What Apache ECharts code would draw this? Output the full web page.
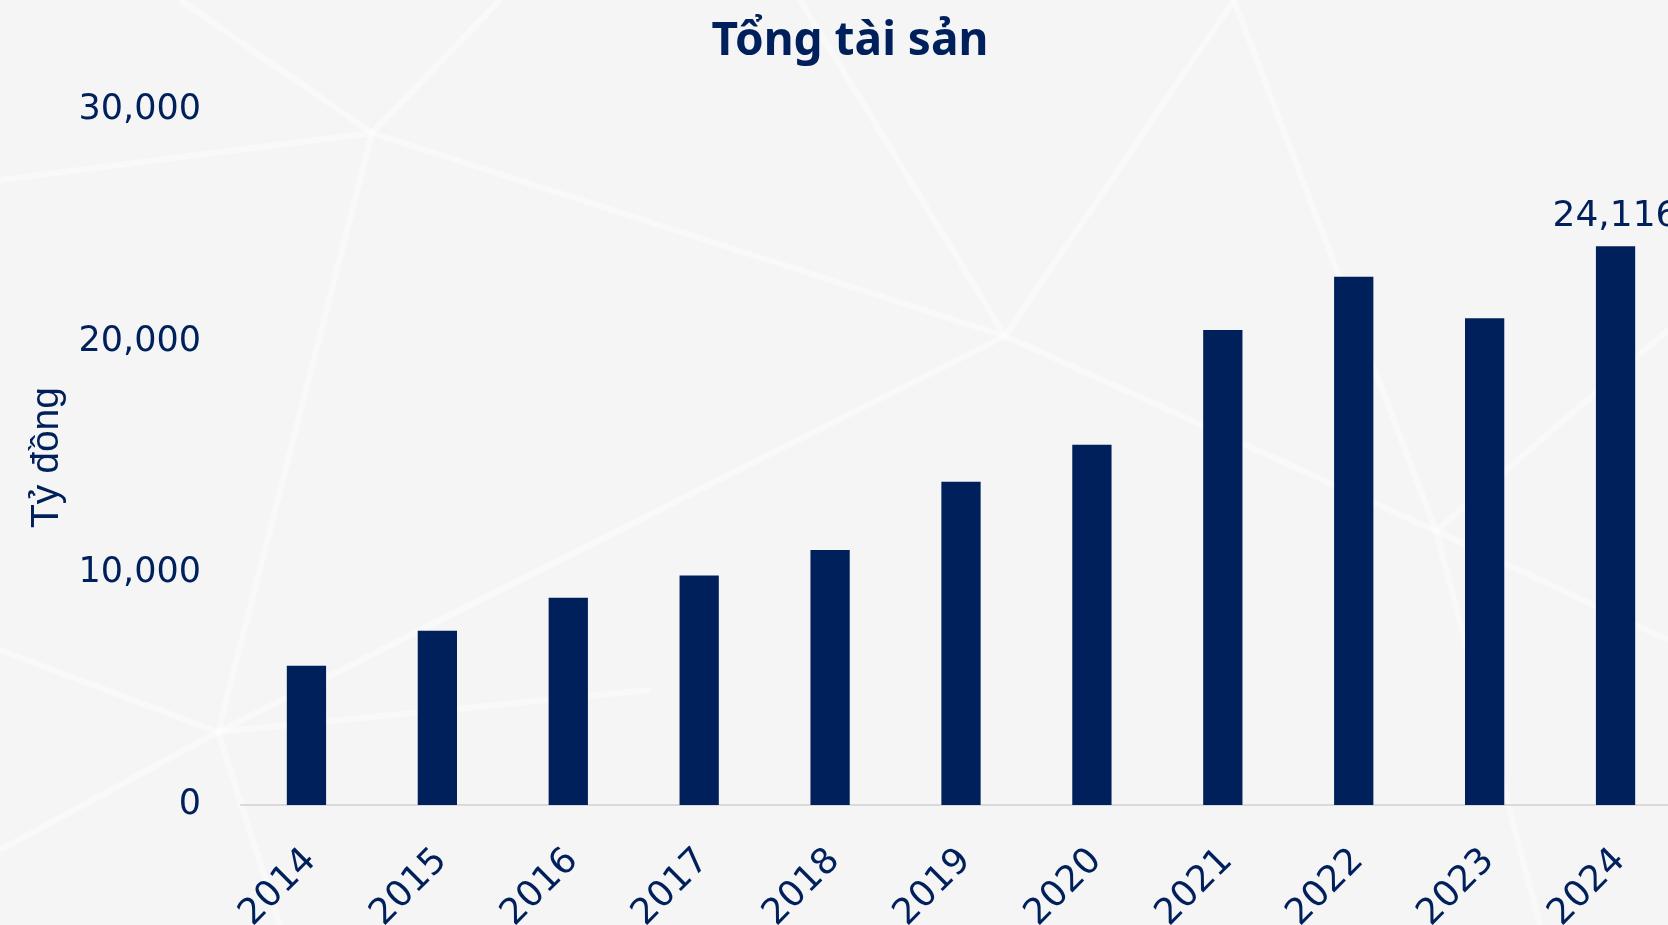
<!DOCTYPE html>
<html>
<head>
<meta charset="utf-8">
<script src="https://cdn.jsdelivr.net/npm/echarts@6/dist/echarts.min.js"></script>
<style>
  html, body { margin: 0; padding: 0; background: #f5f5f6; }
  #main { width: 1668px; height: 925px; }
</style>
</head>
<body>
<div id="main"></div>
<script>
var years = ['2014', '2015', '2016', '2017', '2018', '2019', '2020', '2021', '2022', '2023', '2024'];
var totalAssets = [6010, 7520, 8950, 9910, 11010, 13950, 15550, 20500, 22800, 21010, 24116];
var labelYears = ['2024'];
var yTicks = { min: 0, max: 30000, interval: 10000 };

// faint white facets of the backdrop (pixel coordinates, decoration only)
var facetLines = [
    [[180, 0], [372, 133]], [[0, 180], [372, 133]], [[372, 133], [500, 0]],
    [[372, 133], [218, 732]], [[372, 133], [1005, 336]],
    [[1005, 336], [800, 0]], [[1005, 336], [1234, 0]], [[1234, 0], [1436, 531]],
    [[1005, 336], [1436, 531]], [[1005, 336], [218, 732]],
    [[1436, 531], [1668, 640]], [[1436, 531], [1668, 330]], [[1436, 531], [1540, 925]],
    [[218, 732], [0, 650]], [[218, 732], [0, 850]], [[218, 732], [650, 690]], [[218, 732], [280, 925]]
];

var navy = '#00205b';
var chart = echarts.init(document.getElementById('main'));

var option = {
    backgroundColor: '#f5f5f6',
    graphic: facetLines.map(function (l) {
        return {
            type: 'line', silent: true, z: -10,
            shape: { x1: l[0][0], y1: l[0][1], x2: l[1][0], y2: l[1][1] },
            style: { stroke: 'rgba(255,255,255,0.45)', lineWidth: 6 }
        };
    }),
    title: {
        text: 'Tổng tài sản',
        left: 845,
        top: 14,
        textAlign: 'center',
        textStyle: { color: navy, fontFamily: 'Noto Sans', fontWeight: 'bold', fontSize: 46 }
    },
    grid: { left: 241, top: 110, width: 1440, bottom: 120, outerBoundsMode: 'none', containLabel: false },
    xAxis: {
        type: 'category',
        data: years,
        axisLine: { lineStyle: { color: '#d9d9d9', width: 2 } },
        axisTick: { show: false },
        axisLabel: {
            rotate: 45,
            margin: 46,
            verticalAlign: 'top',
            lineHeight: 12,
            color: navy,
            fontFamily: 'DejaVu Sans',
            fontSize: 36
        }
    },
    yAxis: {
        type: 'value',
        min: yTicks.min,
        max: yTicks.max,
        interval: yTicks.interval,
        name: 'Tỷ đồng',
        nameLocation: 'middle',
        nameRotate: 90,
        nameGap: 174,
        nameTextStyle: { color: navy, fontFamily: 'Liberation Sans', fontSize: 39 },
        axisLine: { show: false },
        axisTick: { show: false },
        splitLine: { show: false },
        axisLabel: {
            margin: 40,
            color: navy,
            fontFamily: 'DejaVu Sans',
            fontSize: 35,
            formatter: function (v) { return v.toLocaleString('en-US'); }
        }
    },
    series: [{
        type: 'bar',
        data: totalAssets,
        barWidth: '30%',
        itemStyle: { color: navy },
        label: {
            show: true,
            position: 'top',
            distance: 12,
            color: navy,
            fontFamily: 'DejaVu Sans',
            fontSize: 36,
            formatter: function (p) {
                return labelYears.indexOf(p.name) >= 0 ? p.value.toLocaleString('en-US') : '';
            }
        }
    }]
};
chart.setOption(option);
</script>
</body>
</html>
